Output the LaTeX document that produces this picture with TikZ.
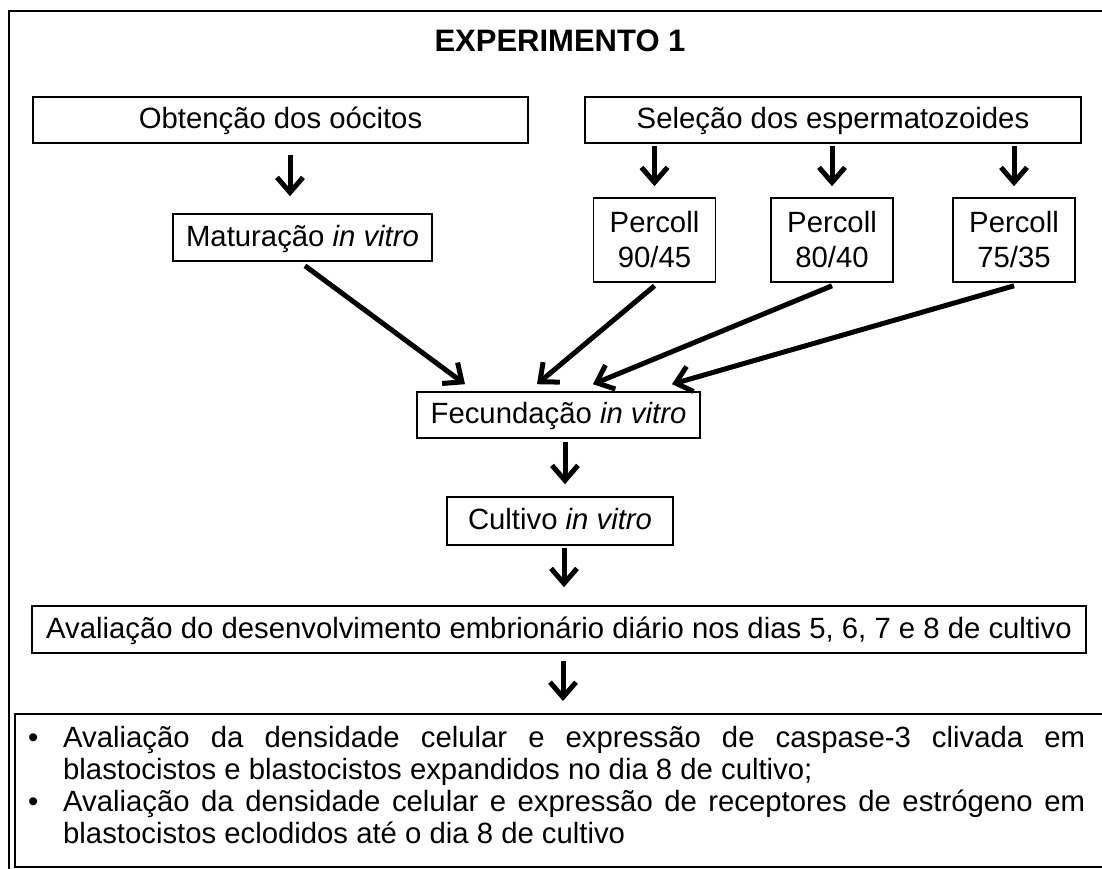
\documentclass[tikz,border=0pt]{standalone}
\usepackage{fontspec}
\setmainfont{Liberation Sans}
\usetikzlibrary{arrows.meta,calc}
\begin{document}
\begin{tikzpicture}[x=1pt,y=-1pt,
  box/.style={draw, line width=1.6pt, inner sep=0pt, font=\fontsize{29.3}{35}\selectfont,
    text height=20.8pt, text depth=3pt, align=center},
  pbox/.style={draw, line width=1.6pt, inner sep=0pt, font=\fontsize{29.3}{35}\selectfont,
    align=center, minimum width=122pt, minimum height=84pt},
  listline/.style={anchor=base west, inner sep=0pt, font=\fontsize{29.3}{32}\selectfont},
  arr/.style={line width=5pt, -{Straight Barb[length=15pt,width=26pt,line width=5pt]}},
]
\useasboundingbox (0,0) rectangle (1102,868);
\clip (0,0) rectangle (1102,868);
% outer frame
\draw[line width=2pt] (9,11) rectangle (1167,880);

\node[font=\fontsize{31}{37}\selectfont\bfseries] (title) at (560,41) {EXPERIMENTO 1};

\node[box, minimum width=495pt, minimum height=46pt] (obt) at (280.5,120) {Obtenção dos oócitos};
\node[box, minimum width=496pt, minimum height=46pt] (sel) at (833,120) {Seleção dos espermatozoides};
\node[box, minimum width=259pt, minimum height=47pt] (mat) at (302.5,237.5) {Maturação \textit{in vitro}};
\node[pbox] (p1) at (654.5,240) {Percoll\\90/45};
\node[pbox] (p2) at (832,240) {Percoll\\80/40};
\node[pbox] (p3) at (1014,240) {Percoll\\75/35};
\node[box, minimum width=283pt, minimum height=46pt] (fec) at (558.5,415) {Fecundação \textit{in vitro}};
\node[box, minimum width=226pt, minimum height=48pt] (cul) at (560,521) {Cultivo \textit{in vitro}};
\node[box, minimum width=1054pt, minimum height=47pt] (ava) at (559,629.5) {Avaliação do desenvolvimento embrionário diário nos dias 5, 6, 7 e 8 de cultivo};
\node[draw, line width=1.6pt, inner sep=0pt, anchor=north west, minimum width=1146pt, minimum height=153pt] (bot) at (14,713) {};

\node[listline] (l1) at (28,747) {\makebox[35pt][l]{•}\makebox[1022pt][s]{Avaliação da densidade celular e expressão de caspase-3 clivada em}};
\node[listline] (l2) at (63,779) {blastocistos e blastocistos expandidos no dia 8 de cultivo;};
\node[listline] (l3) at (28,811) {\makebox[35pt][l]{•}\makebox[1022pt][s]{Avaliação da densidade celular e expressão de receptores de estrógeno em}};
\node[listline] (l4) at (63,843) {blastocistos eclodidos até o dia 8 de cultivo};

% arrows
\draw[arr] ($(obt.south)+(9.5,11)$) -- ($(mat.north)+(-12.5,-17)$);
\draw[arr] ($(p1.north |- sel.south)+(0,2)$) -- ($(p1.north)+(0,-11)$);
\draw[arr] ($(p2.north |- sel.south)+(0,2)$) -- ($(p2.north)+(0,-11)$);
\draw[arr] ($(p3.north |- sel.south)+(0,2)$) -- ($(p3.north)+(0,-11)$);
\draw[arr] ($(mat.south)+(2.5,4)$) -- ($(fec.north)+(-93.5,-7)$);
\draw[arr] ($(p1.south)+(0,3)$) -- ($(fec.north)+(-21.5,-7)$);
\draw[arr] ($(p2.south)+(0,3)$) -- ($(fec.north)+(34.5,-7)$);
\draw[arr] ($(p3.south)+(0,3)$) -- ($(fec.north)+(113.5,-7)$);
\draw[arr] ($(fec.south)+(6.5,3)$) -- ($(cul.north)+(5,-12)$);
\draw[arr] ($(cul.south)+(4,2)$) -- ($(ava.north)+(5,-18)$);
\draw[arr] ($(ava.south)+(4,7)$) -- ($(ava.south |- bot.north)+(4,-12)$);
\end{tikzpicture}
\end{document}
